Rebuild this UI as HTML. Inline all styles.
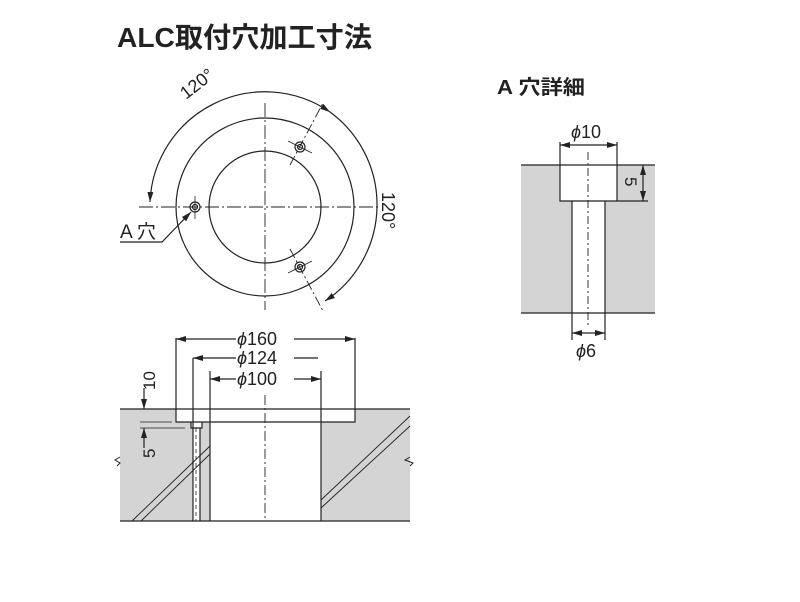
<!DOCTYPE html>
<html><head><meta charset="utf-8"><style>
body{margin:0;background:#fff;width:800px;height:602px;overflow:hidden}
svg{display:block}
text{font-family:"Liberation Sans","Noto Sans CJK JP",sans-serif;fill:#222}
</style></head><body>
<svg width="800" height="602" viewBox="0 0 800 602">
<defs>
<marker id="a" viewBox="0 0 10 6" refX="10" refY="3" markerWidth="10" markerHeight="6" orient="auto-start-reverse" markerUnits="userSpaceOnUse"><path d="M0,0L10,3L0,6z" fill="#222"/></marker>
</defs>
<text x="117" y="47" font-size="28" font-weight="bold" textLength="255" lengthAdjust="spacingAndGlyphs">ALC取付穴加工寸法</text>
<text x="497" y="94" font-size="20" font-weight="bold" textLength="88" lengthAdjust="spacingAndGlyphs">A 穴詳細</text>

<g stroke="#222" fill="none" stroke-width="1.2">
<circle cx="265" cy="207" r="89"/>
<circle cx="265" cy="207" r="56"/>
<path d="M139,207H378M265,103V310" stroke-dasharray="14,3,2,3" stroke-width="0.9"/>
<path d="M290,165L323,103M290,249L323,311" stroke-dasharray="10,3,2,3" stroke-width="0.9"/>
<path d="M150,202 A115,115 0 0 1 330,112" marker-start="url(#a)" marker-end="url(#a)"/>
<path d="M330,112 A115,115 0 0 1 325,301" marker-end="url(#a)"/>
<circle cx="195" cy="207" r="5"/><circle cx="195" cy="207" r="2.5"/>
<circle cx="300" cy="147" r="5"/><circle cx="300" cy="147" r="2.5"/>
<circle cx="300" cy="267" r="5"/><circle cx="300" cy="267" r="2.5"/>
<path d="M195,196V219M288,141L312,153M288,273L312,261" stroke-width="0.8"/>
<path d="M120,242H162L191,212" marker-end="url(#a)"/>
</g>
<text x="0" y="0" font-size="18" transform="translate(186,100) rotate(-38)">120°</text>
<text x="0" y="0" font-size="18" transform="translate(382,192) rotate(90)">120°</text>
<text x="120" y="238" font-size="19">A 穴</text>

<rect x="120" y="409" width="290" height="112" fill="#d4d4d4"/>
<rect x="176" y="409" width="179" height="13" fill="#fff"/>
<rect x="210" y="409" width="111" height="112" fill="#fff"/>
<rect x="191" y="422" width="11" height="6" fill="#fff"/>
<rect x="193" y="428" width="7" height="93" fill="#fff"/>
<g stroke="#222" fill="none" stroke-width="1.2">
<path d="M120,409H410M120,521H410"/>
<path d="M176,409V422H355V409M176,338V409M355,338V409M210,371V521M321,371V521M193,358V521M200,428V521M191,422H202V428H191z"/>
<path d="M132,521L210,446M141,521L210,454M321,500L410,416M321,508L410,426" stroke-width="0.9"/>
<path d="M265,395V521" stroke-dasharray="10,3,2,3" stroke-width="0.9"/>
<path d="M196,428V521" stroke-dasharray="4,3" stroke-width="0.8"/>
<path d="M120,457l-5,3l5,3l-3,3M410,457l-5,3l8,3l-3,3" stroke-width="1"/>
<path d="M176,339H236M294,339H355" marker-start="url(#a)" marker-end="url(#a)"/>
<path d="M193,358H236" marker-start="url(#a)"/><path d="M294,358H318"/>
<path d="M210,379H236M294,379H321" marker-start="url(#a)" marker-end="url(#a)"/>
<path d="M144,388V409" marker-end="url(#a)"/><path d="M144,448V428" marker-end="url(#a)"/>
<path d="M140,422H172M140,428H185" stroke-width="0.8"/>
</g>
<text x="237" y="345" font-size="18"><tspan font-style="italic">ϕ</tspan>160</text>
<text x="237" y="364" font-size="18"><tspan font-style="italic">ϕ</tspan>124</text>
<text x="237" y="385" font-size="18"><tspan font-style="italic">ϕ</tspan>100</text>
<text x="0" y="0" font-size="17" transform="translate(155,390) rotate(-90)">10</text>
<text x="0" y="0" font-size="17" transform="translate(155,458) rotate(-90)">5</text>

<rect x="521" y="165" width="134" height="148" fill="#d4d4d4"/>
<rect x="560" y="165" width="57" height="36" fill="#fff"/>
<rect x="572" y="201" width="33" height="112" fill="#fff"/>
<g stroke="#222" fill="none" stroke-width="1.2">
<path d="M521,165H655M521,313H655"/>
<path d="M560,142V201H617V142M572,201V340M605,201V340M617,201H648"/>
<path d="M588,152V325" stroke-dasharray="8,3,2,3" stroke-width="0.9"/>
<path d="M560,145H617" marker-start="url(#a)" marker-end="url(#a)"/>
<path d="M572,333H605" marker-start="url(#a)" marker-end="url(#a)"/>
<path d="M643,165V201" marker-start="url(#a)" marker-end="url(#a)"/>
</g>
<text x="571" y="138" font-size="18"><tspan font-style="italic">ϕ</tspan>10</text>
<text x="576" y="357" font-size="18"><tspan font-style="italic">ϕ</tspan>6</text>
<text x="0" y="0" font-size="17" transform="translate(625,177) rotate(90)">5</text>
</svg>
</body></html>
